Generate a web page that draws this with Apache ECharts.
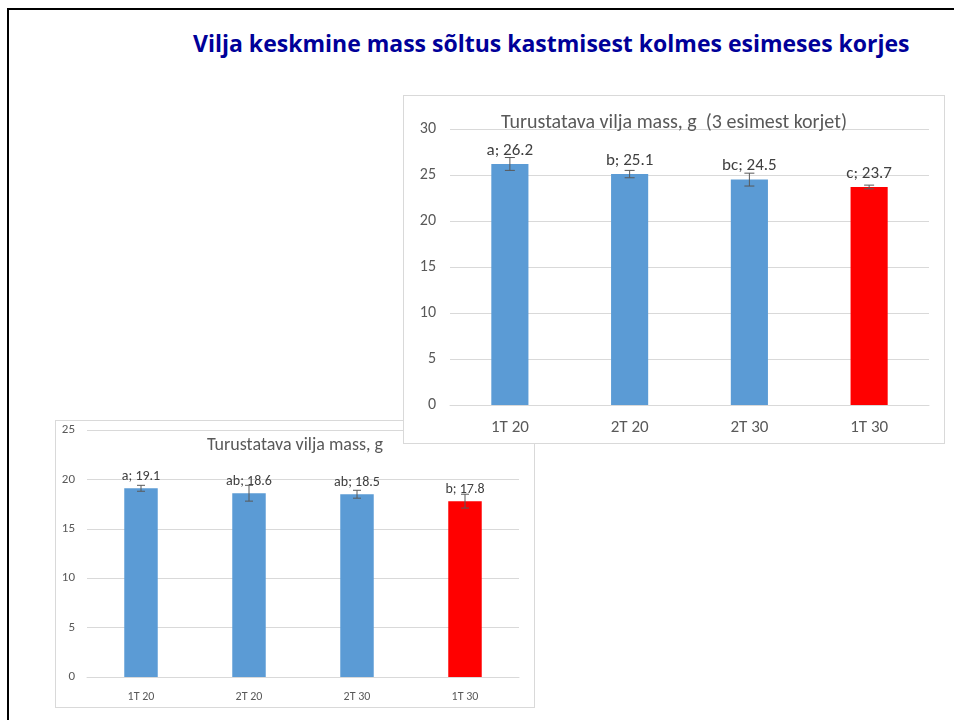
<!DOCTYPE html>
<html>
<head>
<meta charset="utf-8">
<script src="https://cdn.jsdelivr.net/npm/echarts@6/dist/echarts.min.js"></script>
<style>
  body { margin: 0; background: #fff; }
  #slide { position: absolute; left: 0; top: 0; width: 954px; height: 720px; overflow: hidden; background: #fff; }
  #frame { position: absolute; left: 7px; top: 8px; width: 1000px; height: 800px;
           border-left: 2px solid #000; border-top: 2px solid #000; box-sizing: border-box; }
  #title { position: absolute; left: 193px; top: 27px; white-space: nowrap; line-height: 32px;
           font-family: "Open Sans", sans-serif; font-weight: bold; font-size: 23px; color: #000099; }
  .panel { position: absolute; background: #fff; border: 1px solid #d9d9d9; box-sizing: border-box; }
  #lower { left: 55px; top: 420px; width: 480px; height: 288px; }
  #upper { left: 403px; top: 95px; width: 542px; height: 349px; }
</style>
</head>
<body>
<div id="slide">
  <div id="frame"></div>
  <div id="title">Vilja keskmine mass sõltus kastmisest kolmes esimeses korjes</div>
  <div id="lower" class="panel"></div>
  <div id="upper" class="panel"></div>
</div>
<script>
// data
const categories = ['1T 20', '2T 20', '2T 30', '1T 30'];
const barColors = ['#5B9BD5', '#5B9BD5', '#5B9BD5', '#FF0000'];

const upperValues = [26.2, 25.1, 24.5, 23.7];
const upperErrors = [0.7, 0.4, 0.7, 0.2];
const upperLetters = ['a', 'b', 'bc', 'c'];

const lowerValues = [19.1, 18.6, 18.5, 17.8];
const lowerErrors = [0.3, 0.8, 0.4, 0.7];
const lowerLetters = ['a', 'ab', 'ab', 'b'];

const FONT = 'Carlito, Lato, sans-serif';
const GREY = '#595959';

function errorBars(capHalf) {
    return function (params, api) {
        const x = api.value(0);
        const top = api.coord([x, api.value(2)]);
        const bot = api.coord([x, api.value(1)]);
        const style = { stroke: GREY, lineWidth: 1 };
        return {
            type: 'group',
            children: [
                { type: 'line', shape: { x1: top[0], y1: top[1], x2: bot[0], y2: bot[1] }, style: style },
                { type: 'line', shape: { x1: top[0] - capHalf, y1: top[1], x2: top[0] + capHalf, y2: top[1] }, style: style },
                { type: 'line', shape: { x1: bot[0] - capHalf, y1: bot[1], x2: bot[0] + capHalf, y2: bot[1] }, style: style }
            ]
        };
    };
}

function buildOption(cfg) {
    return {
        animation: false,
        textStyle: { fontFamily: FONT },
        title: {
            text: cfg.title,
            left: 'center',
            top: cfg.titleTop,
            textStyle: { fontFamily: FONT, fontSize: cfg.titleSize, fontWeight: 'normal', color: GREY }
        },
        grid: cfg.grid,
        xAxis: {
            type: 'category',
            data: categories,
            axisLine: { show: true, lineStyle: { color: '#d9d9d9' } },
            axisTick: { show: false },
            axisLabel: { fontFamily: FONT, fontSize: cfg.catSize, color: GREY, margin: cfg.catMargin }
        },
        yAxis: {
            type: 'value',
            min: 0,
            max: cfg.max,
            interval: 5,
            axisLine: { show: false },
            axisTick: { show: false },
            splitLine: { lineStyle: { color: '#d9d9d9' } },
            axisLabel: { fontFamily: FONT, fontSize: cfg.valSize, color: GREY, margin: cfg.valMargin }
        },
        series: [
            {
                type: 'bar',
                barWidth: '31%',
                data: cfg.values.map((v, i) => ({ value: v, itemStyle: { color: barColors[i] } })),
                label: {
                    show: true,
                    position: 'top',
                    distance: 5,
                    fontFamily: FONT,
                    fontSize: cfg.labelSize,
                    color: '#404040',
                    formatter: p => cfg.letters[p.dataIndex] + '; ' + p.value
                }
            },
            {
                type: 'custom',
                renderItem: errorBars(cfg.capHalf),
                encode: { x: 0, y: [1, 2] },
                data: cfg.values.map((v, i) => [i, v - cfg.errors[i], v + cfg.errors[i]]),
                z: 5
            }
        ]
    };
}

const lowerChart = echarts.init(document.getElementById('lower'), null, { renderer: 'canvas' });
lowerChart.setOption(buildOption({
    title: 'Turustatava vilja mass, g',
    titleTop: 10,
    titleSize: 18,
    grid: { left: 31, right: 15, top: 9, bottom: 30 },
    max: 25,
    values: lowerValues,
    errors: lowerErrors,
    letters: lowerLetters,
    catSize: 12,
    catMargin: 14,
    valSize: 13,
    valMargin: 12,
    labelSize: 14,
    capHalf: 4
}));

const upperChart = echarts.init(document.getElementById('upper'), null, { renderer: 'canvas' });
upperChart.setOption(buildOption({
    title: 'Turustatava vilja mass, g  (3 esimest korjet)',
    titleTop: 12,
    titleSize: 20,
    grid: { left: 46, right: 15, top: 33, bottom: 38 },
    max: 30,
    values: upperValues,
    errors: upperErrors,
    letters: upperLetters,
    catSize: 17,
    catMargin: 14,
    valSize: 16,
    valMargin: 14,
    labelSize: 17,
    capHalf: 5
}));
</script>
</body>
</html>
